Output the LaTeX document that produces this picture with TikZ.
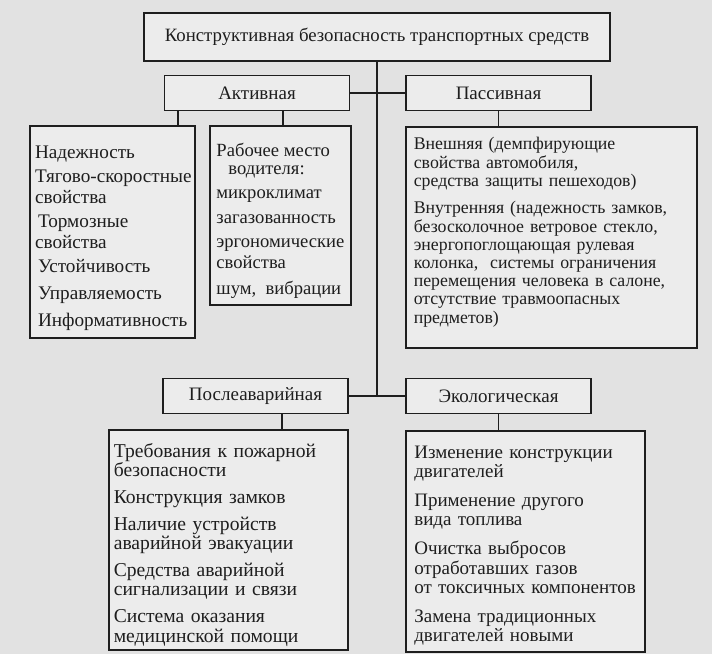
\documentclass[tikz,border=0pt]{standalone}
\usepackage{fontspec}
\setmainfont{Liberation Serif}
\definecolor{inkgray}{HTML}{1E1E1E}
\definecolor{pagegray}{HTML}{E2E2E2}
\definecolor{boxgray}{HTML}{ECECEC}

\begin{document}
\begin{tikzpicture}[x=0.5pt,y=-0.5pt,
  headbox/.style={rectangle,draw=inkgray,fill=boxgray,line width=0.8pt,
    minimum width=92.5pt,minimum height=17.5pt,inner sep=0pt,
    font=\fontsize{9.5}{10}\selectfont,text=inkgray},
  listbox/.style={rectangle,draw=inkgray,fill=boxgray,line width=0.8pt,inner ysep=0pt,
    anchor=north west,align=left,font=\fontsize{9.5}{9.8}\selectfont,text=inkgray},
  link/.style={draw=inkgray,line width=0.8pt},
]

% Page
\fill[pagegray] (0,0) rectangle (712,654);

% Title and the two main groups
\node[headbox,minimum width=233pt,minimum height=24pt,font=\fontsize{9.4}{10}\selectfont] (title) at (377,37)
  {Конструктивная безопасность транспортных средств};
\node[headbox] (activ) at (257,93) {Активная};
\node[headbox] (passiv) at (498.5,93) {Пассивная};

% Active safety
\node[listbox,minimum width=82.5pt,minimum height=106pt,inner xsep=1pt,
  font=\fontsize{9.6}{10.5}\selectfont] (nadezh) at (29,125)
  {\rule{0pt}{12.5pt}\hspace*{1pt}Надежность\\[1.5pt]
   \hspace*{1pt}Тягово-скоростные\\\hspace*{1pt}свойства\\[1.5pt]
   \hspace*{2.5pt}Тормозные\\\hspace*{1pt}свойства\\[1.5pt]
   \hspace*{2.5pt}Устойчивость\\[3pt]
   \hspace*{2.5pt}Управляемость\\[3pt]
   \hspace*{2.5pt}Информативность};
\node[listbox,minimum width=70.5pt,minimum height=89.5pt,
  font=\fontsize{9.3}{10.4}\selectfont] (rabmesto) at (209,125)
  {\rule{0pt}{12pt}Рабочее место\\[-1.5pt]
   \hspace*{6pt}водителя:\\[1.5pt]
   микроклимат\\[2.5pt]
   загазованность\\[1.5pt]
   эргономические\\свойства\\[2.5pt]
   шум,\ \ вибрации};

% Passive safety
\node[listbox,minimum width=145.5pt,minimum height=110.5pt,text width=137.5pt,inner xsep=4pt,
  font=\fontsize{8.9}{9.1}\selectfont] (vnesh) at (405,126)
  {Внешняя (демпфирующие\\
   свойства автомобиля,\\
   средства защиты пешеходов)\\[4.7pt]
   Внутренняя (надежность замков,\\
   безосколочное ветровое стекло,\\
   энергопоглощающая рулевая\\
   колонка,\ \ системы ограничения\\
   перемещения человека в салоне,\\
   отсутствие травмоопасных\\
   предметов)\rule[-7pt]{0pt}{0pt}};

% Lower groups
\coordinate (hub) at (377,396);
\node[headbox] (postav) at (255.5,396) {Послеаварийная};
\node[headbox] (ekol) at (498.5,396) {Экологическая};

\node[listbox,minimum width=119.5pt,minimum height=110pt,text width=114.5pt,inner xsep=2.5pt,
  font=\fontsize{9.8}{9.8}\selectfont] (posled) at (108,429)
  {\rule{0pt}{12pt}Требования к пожарной\\безопасности\\[3.5pt]
   Конструкция замков\\[3.5pt]
   Наличие устройств\\аварийной эвакуации\\[3.5pt]
   Средства аварийной\\сигнализации и связи\\[3.5pt]
   Система оказания\\медицинской помощи};
\node[listbox,minimum width=119.5pt,minimum height=110.5pt,text width=111pt,inner xsep=4.25pt] (ekolist) at (405,430)
  {\rule{0pt}{10.5pt}Изменение конструкции\\двигателей\\[4.5pt]
   Применение другого\\вида топлива\\[4.5pt]
   Очистка выбросов\\отработавших газов\\от токсичных компонентов\\[4.5pt]
   Замена традиционных\\двигателей новыми};

% Connectors
\draw[link] (title.south) -- (hub);
\draw[link] (activ.east) -- (passiv.west);
\draw[link] (postav.east) -- (ekol.west);
\draw[link] ([xshift=7pt]activ.south west) -- ([xshift=7pt]activ.south west |- nadezh.north);
\draw[link] ([xshift=37pt]rabmesto.north west) -- ([xshift=37pt]rabmesto.north west |- activ.south);
\draw[link] (passiv.south) -- (passiv.south |- vnesh.north);
\draw[link] ([xshift=60pt]postav.south west) -- ([xshift=60pt]postav.south west |- posled.north);
\draw[link] (ekol.south) -- (ekol.south |- ekolist.north);

\end{tikzpicture}
\end{document}
